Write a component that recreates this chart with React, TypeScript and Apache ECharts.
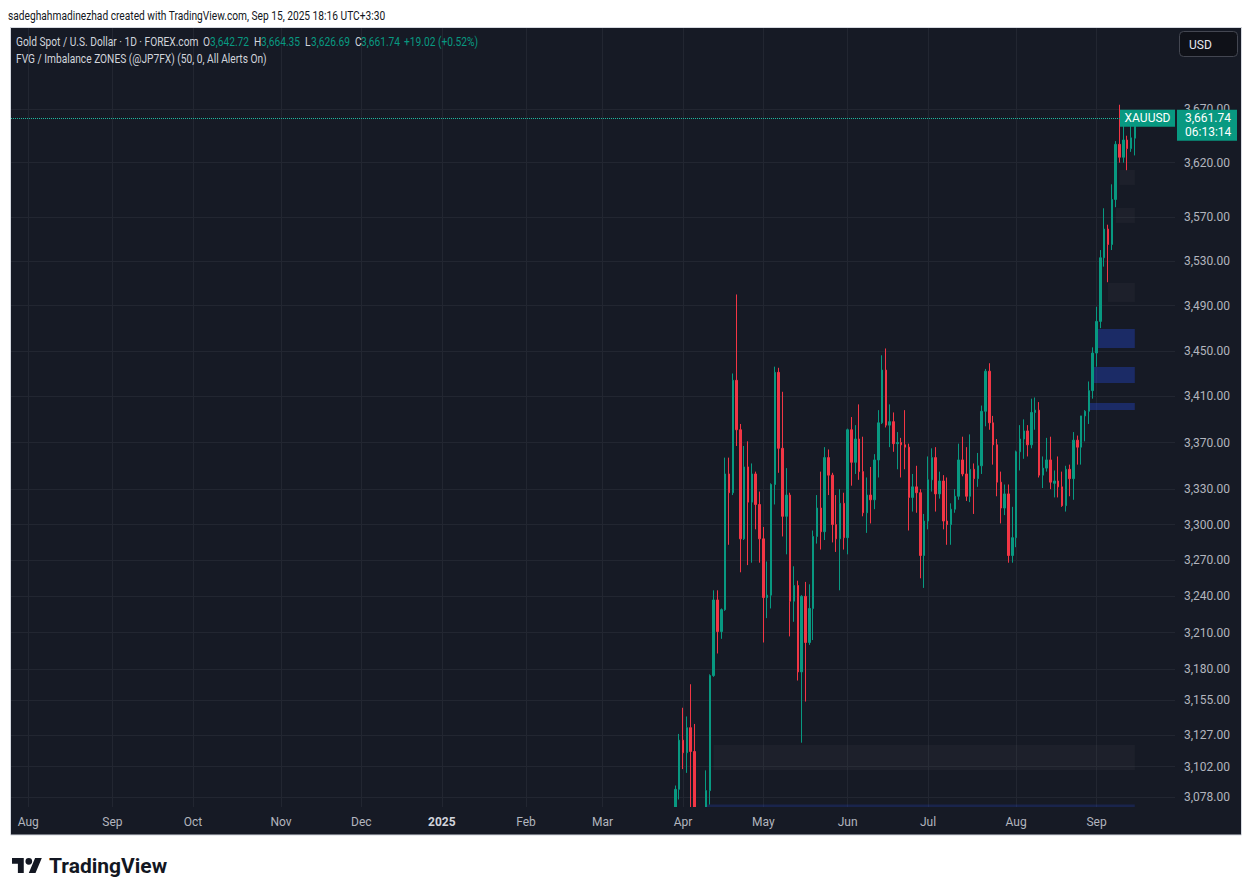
import React, { useEffect, useRef } from "react";
import * as echarts from "echarts";

// ---------------- data ----------------
const candleDates: string[] = [
  "2025-03-28",
  "2025-03-31", "2025-04-01", "2025-04-02", "2025-04-03", "2025-04-04",
  "2025-04-07", "2025-04-08", "2025-04-09", "2025-04-10", "2025-04-11",
  "2025-04-14", "2025-04-15", "2025-04-16", "2025-04-17",
  "2025-04-21", "2025-04-22", "2025-04-23", "2025-04-24", "2025-04-25",
  "2025-04-28", "2025-04-29", "2025-04-30", "2025-05-01", "2025-05-02",
  "2025-05-05", "2025-05-06", "2025-05-07", "2025-05-08", "2025-05-09",
  "2025-05-12", "2025-05-13", "2025-05-14", "2025-05-15", "2025-05-16",
  "2025-05-19", "2025-05-20", "2025-05-21", "2025-05-22", "2025-05-23",
  "2025-05-26", "2025-05-27", "2025-05-28", "2025-05-29", "2025-05-30",
  "2025-06-02", "2025-06-03", "2025-06-04", "2025-06-05", "2025-06-06",
  "2025-06-09", "2025-06-10", "2025-06-11", "2025-06-12", "2025-06-13",
  "2025-06-16", "2025-06-17", "2025-06-18", "2025-06-19", "2025-06-20",
  "2025-06-23", "2025-06-24", "2025-06-25", "2025-06-26", "2025-06-27",
  "2025-06-30", "2025-07-01", "2025-07-02", "2025-07-03", "2025-07-04",
  "2025-07-07", "2025-07-08", "2025-07-09", "2025-07-10", "2025-07-11",
  "2025-07-14", "2025-07-15", "2025-07-16", "2025-07-17", "2025-07-18",
  "2025-07-21", "2025-07-22", "2025-07-23", "2025-07-24", "2025-07-25",
  "2025-07-28", "2025-07-29", "2025-07-30", "2025-07-31", "2025-08-01",
  "2025-08-04", "2025-08-05", "2025-08-06", "2025-08-07", "2025-08-08",
  "2025-08-11", "2025-08-12", "2025-08-13", "2025-08-14", "2025-08-15",
  "2025-08-18", "2025-08-19", "2025-08-20", "2025-08-21", "2025-08-22",
  "2025-08-25", "2025-08-26", "2025-08-27", "2025-08-28", "2025-08-29",
  "2025-09-01", "2025-09-02", "2025-09-03", "2025-09-04", "2025-09-05",
  "2025-09-08", "2025-09-09", "2025-09-10", "2025-09-11", "2025-09-12",
  "2025-09-15",
];

const openPrices: number[] = [
  3057,
  3084, 3123, 3113, 3133, 3114,
  3037, 2982, 2983, 3083, 3175,
  3237, 3211, 3229, 3343,
  3327, 3424, 3381, 3288, 3349,
  3319, 3343, 3317, 3288, 3239,
  3241, 3334, 3431, 3365, 3307,
  3325, 3236, 3249, 3178, 3240,
  3202, 3230, 3290, 3314, 3294,
  3357, 3342, 3300, 3288, 3318,
  3289, 3381, 3353, 3373, 3345,
  3310, 3325, 3321, 3355, 3387,
  3433, 3385, 3388, 3369, 3370,
  3368, 3366, 3323, 3332, 3327,
  3274, 3303, 3338, 3357, 3326,
  3337, 3303, 3300, 3313, 3324,
  3355, 3343, 3324, 3347, 3339,
  3350, 3397, 3432, 3387, 3368,
  3336, 3314, 3326, 3274, 3289,
  3362, 3373, 3380, 3368, 3396,
  3398, 3342, 3348, 3355, 3335,
  3337, 3332, 3316, 3347, 3339,
  3372, 3366, 3393, 3397, 3415,
  3448, 3476, 3533, 3559, 3545,
  3586, 3637, 3625, 3641, 3633,
  3642.72,
];

const highPrices: number[] = [
  3087,
  3128, 3149, 3142, 3168, 3136,
  3055, 3023, 3099, 3176, 3245,
  3245, 3230, 3357, 3357,
  3430, 3500, 3386, 3367, 3371,
  3352, 3345, 3328, 3298, 3269,
  3335, 3436, 3435, 3414, 3348,
  3327, 3265, 3253, 3241, 3252,
  3250, 3295, 3325, 3345, 3366,
  3364, 3344, 3325, 3330, 3327,
  3382, 3392, 3385, 3403, 3375,
  3340, 3349, 3360, 3398, 3446,
  3452, 3403, 3396, 3379, 3374,
  3398, 3369, 3343, 3350, 3330,
  3309, 3358, 3365, 3366, 3345,
  3342, 3340, 3318, 3330, 3369,
  3375, 3366, 3377, 3352, 3361,
  3402, 3434, 3439, 3393, 3373,
  3345, 3334, 3334, 3315, 3363,
  3385, 3390, 3385, 3408, 3409,
  3405, 3358, 3374, 3375, 3346,
  3358, 3345, 3350, 3351, 3379,
  3376, 3393, 3398, 3423, 3453,
  3489, 3540, 3578, 3563, 3600,
  3640, 3674, 3659, 3645, 3655,
  3664.35,
];

const lowPrices: number[] = [
  3055,
  3076, 3100, 3097, 3054, 3015,
  2956, 2970, 2957, 3072, 3174,
  3193, 3205, 3228, 3283,
  3325, 3367, 3260, 3287, 3266,
  3268, 3296, 3268, 3202, 3222,
  3230, 3317, 3344, 3290, 3275,
  3207, 3219, 3171, 3121, 3154,
  3200, 3204, 3284, 3279, 3287,
  3325, 3285, 3277, 3245, 3279,
  3275, 3333, 3343, 3338, 3307,
  3293, 3301, 3313, 3340, 3386,
  3383, 3366, 3362, 3347, 3340,
  3347, 3295, 3311, 3310, 3255,
  3247, 3296, 3328, 3311, 3322,
  3296, 3283, 3283, 3310, 3321,
  3341, 3320, 3319, 3309, 3332,
  3343, 3384, 3381, 3351, 3324,
  3301, 3308, 3268, 3268, 3281,
  3346, 3356, 3358, 3365, 3381,
  3340, 3331, 3345, 3330, 3323,
  3323, 3315, 3311, 3324, 3321,
  3351, 3351, 3371, 3386, 3408,
  3436, 3470, 3525, 3511, 3540,
  3579, 3620, 3620, 3613, 3630,
  3626.69,
];

const closePrices: number[] = [
  3084,
  3123, 3113, 3133, 3114, 3037,
  2982, 2983, 3083, 3175, 3237,
  3211, 3229, 3343, 3327,
  3424, 3381, 3288, 3349, 3319,
  3343, 3317, 3288, 3239, 3241,
  3334, 3431, 3365, 3307, 3325,
  3236, 3249, 3178, 3240, 3202,
  3230, 3290, 3314, 3294, 3357,
  3342, 3300, 3288, 3318, 3289,
  3381, 3353, 3373, 3345, 3310,
  3325, 3321, 3355, 3387, 3433,
  3385, 3388, 3369, 3370, 3368,
  3366, 3323, 3332, 3327, 3274,
  3303, 3338, 3357, 3326, 3337,
  3303, 3300, 3313, 3324, 3355,
  3343, 3324, 3347, 3339, 3350,
  3397, 3432, 3387, 3368, 3336,
  3314, 3326, 3274, 3289, 3362,
  3373, 3380, 3368, 3396, 3398,
  3342, 3348, 3355, 3336, 3337,
  3332, 3316, 3347, 3339, 3372,
  3366, 3393, 3397, 3415, 3448,
  3476, 3533, 3559, 3545, 3586,
  3637, 3625, 3641, 3633, 3643,
  3661.74,
];

// price scale (log) ticks and visible range
const priceTicks: number[] = [
  3078, 3102, 3127, 3155, 3180, 3210, 3240, 3270, 3300, 3330,
  3370, 3410, 3450, 3490, 3530, 3570, 3620, 3670,
];
const priceMin = 3070.1;
const priceMax = 3746.8;

// trading calendar of the time scale
const firstSession = "2024-07-26";
const sessionCount = 304;
const marketHolidays: string[] = ["2024-12-25", "2025-01-01", "2025-04-18"];
const monthNames: string[] = ["Jan", "Feb", "Mar", "Apr", "May", "Jun", "Jul", "Aug", "Sep", "Oct", "Nov", "Dec"];

// FVG / imbalance zones
const zoneStarts: string[] = ["2025-04-09", "2025-04-11", "2025-08-28", "2025-08-29", "2025-09-01", "2025-09-04", "2025-09-08", "2025-09-09"];
const zoneEnds: string[] = ["2025-09-15", "2025-09-15", "2025-09-15", "2025-09-15", "2025-09-15", "2025-09-15", "2025-09-15", "2025-09-15"];
const zoneLows: number[] = [3023, 3099.3, 3398.1, 3421.7, 3452.5, 3493.3, 3564.6, 3599.4];
const zoneHighs: number[] = [3072, 3119.2, 3404.2, 3435.7, 3469.3, 3510.3, 3578.3, 3613.2];
const zoneKinds: string[] = ["open", "mitigated", "open", "open", "open", "mitigated", "mitigated", "mitigated"];

// legend / tags
const symbolTitle = "Gold Spot / U.S. Dollar · 1D · FOREX.com";
const indicatorTitle = "FVG / Imbalance ZONES (@JP7FX) (50, 0, All Alerts On)";
const lastOpen = "3,642.72";
const lastHigh = "3,664.35";
const lastLow = "3,626.69";
const lastClose = "3,661.74";
const lastChange = "+19.02 (+0.52%)";
const lastPrice = 3661.74;
const countdown = "06:13:14";
const headerText = "sadeghahmadinezhad created with TradingView.com, Sep 15, 2025 18:16 UTC+3:30";

// ---------------- styles ----------------
const FONT = "Roboto, 'Noto Sans', sans-serif";
const BG = "#161a25";
const GRID = "#222631";
const UP = "#089981";
const DOWN = "#f23645";
const AXIS_TEXT = "#b2b5be";
const LEGEND_TEXT = "#d1d4dc";
const ZONE_OPEN = "rgba(41, 82, 255, 0.30)";
const ZONE_OPEN_EDGE = "rgba(41, 82, 255, 0.18)";
const ZONE_MITIGATED = "rgba(178, 181, 190, 0.045)";

try {
  echarts.graphic.registerShape(
    "tvLogo",
    echarts.graphic.extendPath(
      "M14 22H7V11H0V4h14v18zM28 22h-8l7.5-18h8L28 22zM24 8A4 4 0 1 1 16 8A4 4 0 1 1 24 8Z",
      {}
    ) as any
  );
} catch (e) {
  /* already registered */
}

function buildSessions(): string[] {
  const out: string[] = [];
  const [y, m, d] = firstSession.split("-").map(Number);
  const day = new Date(Date.UTC(y, m - 1, d));
  while (out.length < sessionCount) {
    const wd = day.getUTCDay();
    const iso = day.toISOString().slice(0, 10);
    if (wd !== 0 && wd !== 6 && !marketHolidays.includes(iso)) out.push(iso);
    day.setUTCDate(day.getUTCDate() + 1);
  }
  return out;
}

function fmtPrice(v: number): string {
  return v.toLocaleString("en-US", { minimumFractionDigits: 2, maximumFractionDigits: 2 });
}

function buildOption() {
  const sessions = buildSessions();
  const monthStart = sessions.map((d, i) => i > 0 && d.slice(5, 7) !== sessions[i - 1].slice(5, 7));
  const isStart = (i: number) => monthStart[i];
  const monthLabel = (d: string) => {
    const m = Number(d.slice(5, 7));
    return m === 1 ? `{yr|${d.slice(0, 4)}}` : monthNames[m - 1];
  };
  const ln = Math.log;
  const lnTicks = priceTicks.map((p) => ln(p));

  const candles = candleDates.map((d, i) => [
    d,
    ln(openPrices[i]),
    ln(closePrices[i]),
    ln(lowPrices[i]),
    ln(highPrices[i]),
  ]);

  const zones = zoneStarts.map((s, i) => [
    {
      xAxis: s,
      yAxis: ln(zoneHighs[i]),
      itemStyle: {
        color: zoneKinds[i] === "open" ? (i === 0 ? ZONE_OPEN_EDGE : ZONE_OPEN) : ZONE_MITIGATED,
        opacity: 1,
        borderWidth: 0,
      },
    },
    { xAxis: zoneEnds[i], yAxis: ln(zoneLows[i]) },
  ]);

  return {
    animation: false,
    backgroundColor: "#ffffff",
    textStyle: { fontFamily: FONT },
    grid: { left: 11, right: 77, top: 28, bottom: 89, containLabel: false, outerBoundsMode: "none" },
    xAxis: [
      {
        type: "category",
        data: sessions,
        boundaryGap: true,
        z: 0,
        axisLine: { show: false },
        axisTick: { show: false },
        axisLabel: { show: false },
        splitLine: { show: true, interval: isStart, alignWithLabel: true, lineStyle: { color: GRID, width: 1 } },
      },
      {
        type: "category",
        data: sessions,
        position: "bottom",
        boundaryGap: true,
        z: 6,
        axisLine: { show: false },
        axisTick: { show: false },
        splitLine: { show: false },
        axisLabel: {
          interval: isStart,
          formatter: (v: string) => monthLabel(v),
          color: AXIS_TEXT,
          fontSize: 12,
          fontFamily: FONT,
          margin: 9,
          rich: { yr: { fontWeight: "bold", color: LEGEND_TEXT, fontSize: 12, fontFamily: FONT } },
        },
      },
    ],
    yAxis: {
      type: "value",
      position: "right",
      min: ln(priceMin),
      max: ln(priceMax),
      axisLine: { show: false },
      axisTick: { show: false, customValues: lnTicks },
      axisLabel: {
        customValues: lnTicks,
        formatter: (v: number) => fmtPrice(Math.exp(v)),
        color: AXIS_TEXT,
        fontSize: 12,
        fontFamily: FONT,
        margin: 9,
      },
      splitLine: { show: true, lineStyle: { color: GRID, width: 1 } },
    },
    series: [
      {
        type: "candlestick",
        xAxisIndex: 0,
        yAxisIndex: 0,
        data: candles,
        encode: { x: 0, y: [1, 2, 3, 4] },
        barWidth: 2,
        clip: true,
        itemStyle: {
          color: UP,
          color0: DOWN,
          borderColor: UP,
          borderColor0: DOWN,
          borderWidth: 1,
        },
        markArea: { silent: true, data: zones },
        markLine: {
          silent: true,
          precision: 10,
          symbol: ["none", "none"],
          label: { show: false },
          lineStyle: { type: "dotted", color: "#1fb89f", width: 1 },
          data: [{ yAxis: ln(lastPrice) }],
        },
      },
    ],
  };
}

function txt(id: string, text: string, x: number, y: number, fill: string, extra: any = {}) {
  const { fontSize = 12, fontWeight = "normal", scaleX = 1, z = 10, align = "left" } = extra;
  return {
    type: "text",
    id,
    x,
    y,
    z,
    scaleX,
    style: {
      text,
      fill,
      fontSize,
      fontWeight,
      fontFamily: FONT,
      align,
      verticalAlign: "middle",
    },
  };
}

function buildGraphics(py: number) {
  const box = { x: 10.5, y: 27.5, width: 1231, height: 807.5 };
  const sx = 0.85;
  return [
    { type: "rect", id: "bg", z: -10, shape: box, style: { fill: BG } },
    { type: "rect", id: "coverBand", z: 5, shape: { x: 11, y: 807, width: 1230, height: 28.5 }, style: { fill: BG } },
    { type: "rect", id: "coverPage", z: 5, shape: { x: 0, y: 835, width: 1252, height: 61 }, style: { fill: "#ffffff" } },
    { type: "rect", id: "frame", z: 9, shape: box, style: { fill: "none", stroke: "#d6d9e0", lineWidth: 1 } },

    txt("header", headerText, 8, 16, "#131722", { scaleX: sx }),

    txt("sym", symbolTitle, 16, 42.5, LEGEND_TEXT, { scaleX: sx }),
    txt("oL", "O", 203, 42.5, LEGEND_TEXT, { scaleX: sx }),
    txt("oV", lastOpen, 210, 42.5, UP, { scaleX: sx }),
    txt("hL", "H", 254, 42.5, LEGEND_TEXT, { scaleX: sx }),
    txt("hV", lastHigh, 261, 42.5, UP, { scaleX: sx }),
    txt("lL", "L", 305, 42.5, LEGEND_TEXT, { scaleX: sx }),
    txt("lV", lastLow, 311, 42.5, UP, { scaleX: sx }),
    txt("cL", "C", 355, 42.5, LEGEND_TEXT, { scaleX: sx }),
    txt("cV", lastClose, 361, 42.5, UP, { scaleX: sx }),
    txt("chg", lastChange, 404, 42.5, UP, { scaleX: sx }),
    txt("ind", indicatorTitle, 16, 59.5, LEGEND_TEXT, { scaleX: sx }),

    {
      type: "rect",
      id: "usdBtn",
      z: 10,
      shape: { x: 1179.5, y: 31.5, width: 58, height: 25, r: 4 },
      style: { fill: "#0f1118", stroke: "#434651", lineWidth: 1 },
    },
    txt("usd", "USD", 1189, 44.5, "#e6e8ee"),

    {
      type: "rect",
      id: "symTag",
      z: 10,
      shape: { x: 1120, y: py - 8, width: 55, height: 17 },
      style: { fill: UP },
    },
    txt("symTagT", "XAUUSD", 1147.5, py + 0.5, "#ffffff", { align: "center", z: 11 }),
    {
      type: "rect",
      id: "priceTag",
      z: 10,
      shape: { x: 1177, y: py - 8, width: 60, height: 31 },
      style: { fill: UP },
    },
    txt("priceTagT", fmtPrice(lastPrice), 1185, py + 0.5, "#ffffff", { z: 11 }),
    txt("countT", countdown, 1185, py + 14, "#ffffff", { z: 11 }),

    {
      type: "tvLogo",
      id: "logoIcon",
      z: 10,
      x: 12,
      y: 854.6,
      scaleX: 0.84,
      scaleY: 0.84,
      style: { fill: "#131722" },
    },
    txt("logoText", "TradingView", 49, 866, "#131722", { fontSize: 21, fontWeight: "bold" }),
  ];
}

export default function App() {
  const ref = useRef<HTMLDivElement>(null);
  useEffect(() => {
    if (!ref.current) return;
    const chart = echarts.init(ref.current, null, { renderer: "svg" });
    chart.setOption(buildOption() as any);
    const py = chart.convertToPixel({ yAxisIndex: 0 }, Math.log(lastPrice)) as unknown as number;
    chart.setOption({ graphic: buildGraphics(py) } as any);
    return () => chart.dispose();
  }, []);
  return (
    <div
      ref={ref}
      style={{ position: "fixed", left: 0, top: 0, width: 1252, height: 896, background: "#ffffff" }}
    />
  );
}
